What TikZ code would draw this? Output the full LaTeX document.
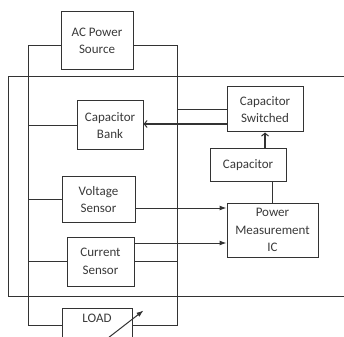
\documentclass[tikz,border=0pt]{standalone}
\usepackage{fontspec}
\setmainfont{Carlito}
\usetikzlibrary{arrows.meta,calc,positioning}
\definecolor{ink}{HTML}{3A3A3A}
\definecolor{wireclr}{HTML}{333333}
\tikzset{
  unit/.style={
    rectangle,
    draw=wireclr,
    line width=1pt,
    fill=white,
    align=center,
    text=ink,
    font=\fontsize{13}{17.5}\selectfont,
    inner sep=2pt
  },
  wire/.style={
    draw=wireclr,
    line width=1pt
  },
  sig/.style={
    wire,
    -{Latex[length=7pt,width=5pt]}
  },
  ctrl/.style={
    draw=wireclr,
    line width=2pt,
    -{Straight Barb[length=3pt,width=7pt,line width=1pt]}
  }
}
\begin{document}
\begin{tikzpicture}[x=1pt,y=-1pt]
  \useasboundingbox (0,0) rectangle (344,336);
  \clip (0,0) rectangle (344,336);

  % enclosure
  \draw[wire] (8,77) rectangle (360,296);

  % blocks
  \node[unit, minimum width=72pt, minimum height=58pt] (ac) at (97,41) {AC Power\\Source};
  \node[unit, minimum width=66pt, minimum height=49pt] (bank) at (110,125.5) {Capacitor\\Bank};
  \node[unit, minimum width=73pt, minimum height=45pt] (volt) at (98.5,199.5) {Voltage\\Sensor};
  \node[unit, minimum width=67pt, minimum height=49pt] (curr) at (100.5,261.5) {Current\\Sensor};
  \node[unit, minimum width=70pt, minimum height=38pt] (load) at (97,327) {LOAD\\ };
  \node[unit, minimum width=76pt, minimum height=45pt] (swi) at (265,109.5) {Capacitor\\Switched};
  \node[unit, minimum width=76pt, minimum height=33pt] (cap) at (248,165.5) {Capacitor};
  \node[unit, minimum width=91pt, minimum height=54pt] (pm) at (272.5,230) {Power\\Measurement\\IC};

  % supply lines
  \coordinate (lt) at (28,46);
  \coordinate (lb) at (28,325);
  \coordinate (rt) at (177,46);
  \coordinate (rb) at (177,325);
  \draw[wire] (ac.west |- lt) -- (lt) -- (lb) -- (load.west |- lb);
  \draw[wire] (ac.east |- rt) -- (rt) -- (rb) -- (load.east |- rb);
  \draw[wire] (bank.west) -- (lt |- bank.west);
  \draw[wire] (volt.west) -- (lt |- volt.west);
  \draw[wire] (curr.west) -- (lt |- curr.west);
  \draw[wire] (curr.east) -- (rt |- curr.east);
  \draw[wire] (rt |- swi.west) -- (swi.west);

  % signals
  \coordinate (va) at (0,208);
  \coordinate (ca) at (0,243);
  \coordinate (sb) at (0,124);
  \draw[sig] (volt.east |- va) -- (pm.west |- va);
  \draw[sig] (curr.east |- ca) -- (pm.west |- ca);
  \draw[ctrl] (swi.west |- sb) -- (bank.east |- sb);
  \draw[ctrl] (cap.north -| swi.south) -- (swi.south);
  \draw[wire] (pm.north) -- (cap.south -| pm.north);

  % variable load
  \coordinate (v1) at (99,345);
  \coordinate (v2) at (143.5,310.5);
  \draw[sig] (v1) -- (v2);
\end{tikzpicture}
\end{document}
